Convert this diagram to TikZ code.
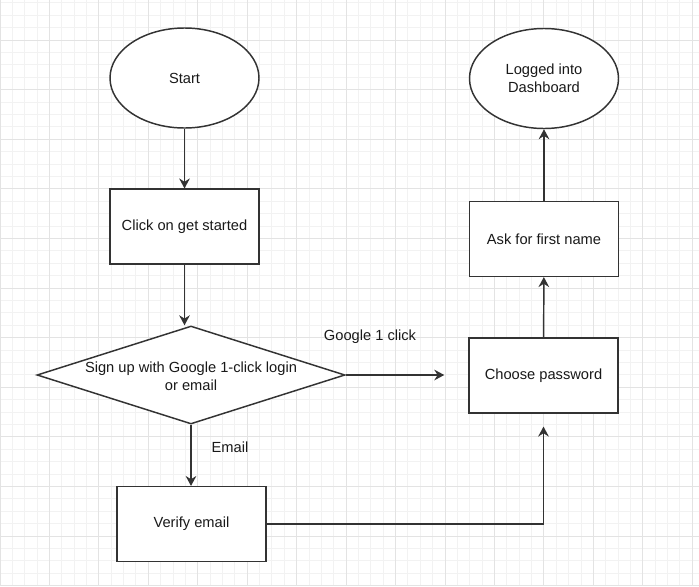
\documentclass[tikz,border=0pt]{standalone}
\usepackage{fontspec}
\setmainfont{Liberation Sans}
\usetikzlibrary{shapes.geometric,arrows.meta}

\begin{document}
\begin{tikzpicture}[x=0.75pt,y=-0.75pt,
        every node/.style={font=\fontsize{11}{13.5}\selectfont, text=black!90},
        flowline/.style={draw=black!80, line width=1.1pt},
        flowarrow/.style={flowline, -{Stealth[length=7.5pt,width=8pt,inset=2.5pt]}},
        terminal/.style={ellipse, draw=black!80, line width=1.1pt, fill=white, minimum width=111.75pt, minimum height=75pt, inner sep=0pt, align=center},
        process/.style={rectangle, draw=black!80, line width=1.1pt, fill=white, minimum width=111.75pt, minimum height=56pt, inner sep=0pt, align=center},
        decision/.style={diamond, aspect=3, draw=black!80, line width=1.1pt, fill=white, minimum width=231pt, minimum height=73.5pt, inner sep=0pt}]

        \fill[white] (0,0) rectangle (699,586);
        \useasboundingbox (0,0) rectangle (699,586);

        % background grid
        \foreach \gx in {0,12.3625,...,699} \draw[black!5, line width=0.75pt] (\gx,0) -- (\gx,586);
        \foreach \gy in {2.8,15.2,...,586} \draw[black!5, line width=0.75pt] (0,\gy) -- (699,\gy);
        \foreach \gx in {0,49.45,...,699} \draw[black!11, line width=0.75pt] (\gx,0) -- (\gx,586);
        \foreach \gy in {40,89.6,...,586} \draw[black!11, line width=0.75pt] (0,\gy) -- (699,\gy);

        \node[terminal] (start) at (184.5,78) {Start};
        \node[process] (click) at (184.5,226.5) {Click on get started};
        \node[decision] (decide) at (191,375) {\makebox[0pt]{\raisebox{-2.5pt}[\height][\depth]{\begin{tabular}{@{}c@{}}Sign up with Google 1-click login\\or email\end{tabular}}}};
        \node[process] (verify) at (191.5,524) {Verify email};
        \node[process] (choose) at (543.5,375.5) {Choose password};
        \node[process] (ask) at (544,239) {Ask for first name};
        \node[terminal] (logged) at (544,78.5) {Logged into\\Dashboard};

        \node (googlelabel) at (370,337) {Google 1 click};
        \node (emaillabel) at (230,447) {Email};

        \draw[flowarrow] (start) -- (click);
        \draw[flowarrow] (click.south) -- (click.south |- decide.north);
        \draw[flowarrow] (decide.south) -- (decide.south |- verify.north);
        \draw[flowarrow, shorten >=18pt] (decide.east) -- (decide.east -| choose.west);
        \draw[flowarrow, shorten >=9.75pt] (verify.east) -| (choose.south);
        \draw[flowarrow] (choose) -- (ask);
        \draw[flowarrow] (ask) -- (logged);
    \end{tikzpicture}
\end{document}
